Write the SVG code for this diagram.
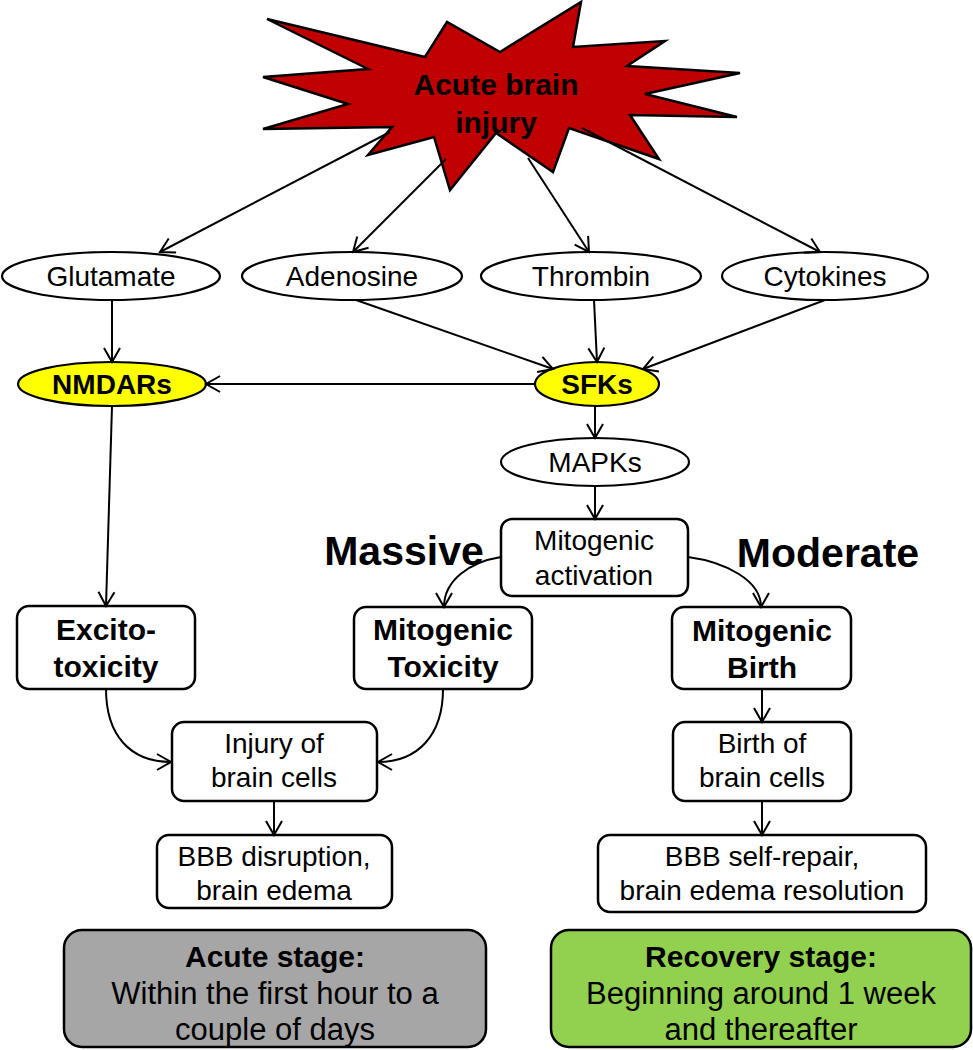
<svg xmlns="http://www.w3.org/2000/svg" width="973" height="1050" viewBox="0 0 973 1050">
<style>
.t{font-family:"Liberation Sans",Arial,sans-serif;font-size:28px;fill:#000;text-anchor:middle}
.b{font-weight:bold;font-size:30px}
.bs{font-weight:bold;font-size:28px}
.big{font-weight:bold;font-size:41px}
.st{font-size:31px}
.box{fill:#fff;stroke:#000;stroke-width:2.5}
.ell{fill:#fff;stroke:#000;stroke-width:2.2}
.yel{fill:#ffff00;stroke:#000;stroke-width:2.2}
.c{fill:none;stroke:#000;stroke-width:2;marker-end:url(#ah)}
</style>
<defs>
<marker id="ah" viewBox="-16 -10 18 20" refX="0" refY="0" markerWidth="18" markerHeight="20" markerUnits="userSpaceOnUse" orient="auto">
<path d="M-14,-8 L0,0 L-14,8" fill="none" stroke="#000" stroke-width="2"/>
</marker>
</defs>
<rect width="973" height="1050" fill="#fff"/>
<g id="injury">
<polygon points="267,19 425,57 447,22 500,52 581,2 573,47 665,41 627,66 740,73 645,94 737,117 630,115 659,159 569,128 553,172 496,133 450,190 434,137 368,155 392,127 263,129 348,104 263,77 368,69" fill="#c00000" stroke="#000" stroke-width="2.5" stroke-linejoin="miter"/>
<text class="t b" x="496" y="95">Acute brain</text>
<text class="t b" x="496" y="133">injury</text>
</g>
<g id="glutamate"><ellipse class="ell" cx="111" cy="276" rx="109" ry="24"/><text class="t" x="111" y="286">Glutamate</text></g>
<g id="adenosine"><ellipse class="ell" cx="352" cy="276" rx="110" ry="24"/><text class="t" x="352" y="286">Adenosine</text></g>
<g id="thrombin"><ellipse class="ell" cx="591" cy="276" rx="110" ry="24"/><text class="t" x="591" y="286">Thrombin</text></g>
<g id="cytokines"><ellipse class="ell" cx="825" cy="276" rx="103" ry="24"/><text class="t" x="825" y="286">Cytokines</text></g>
<g id="nmdars"><ellipse class="yel" cx="112" cy="384" rx="94" ry="22"/><text class="t bs" x="112" y="394">NMDARs</text></g>
<g id="sfks"><ellipse class="yel" cx="597" cy="384" rx="62" ry="22"/><text class="t bs" x="597" y="394">SFKs</text></g>
<g id="mapks"><ellipse class="ell" cx="595" cy="462" rx="94" ry="24"/><text class="t" x="595" y="472">MAPKs</text></g>
<g id="mitoact"><rect class="box" x="501" y="519" width="187" height="77" rx="11"/><text class="t" x="594" y="550">Mitogenic</text><text class="t" x="594" y="585">activation</text></g>
<g id="massive"><text class="t big" x="404" y="565">Massive</text></g>
<g id="moderate"><text class="t big" x="828" y="567">Moderate</text></g>
<g id="excito"><rect class="box" x="17" y="606" width="178" height="83" rx="12"/><text class="t b" x="106" y="640">Excito-</text><text class="t b" x="106" y="677">toxicity</text></g>
<g id="mitotox"><rect class="box" x="354" y="607" width="178" height="82" rx="12"/><text class="t b" x="443" y="640">Mitogenic</text><text class="t b" x="443" y="677">Toxicity</text></g>
<g id="mitobirth"><rect class="box" x="672" y="607" width="179" height="82" rx="12"/><text class="t b" x="762" y="641">Mitogenic</text><text class="t b" x="762" y="678">Birth</text></g>
<g id="injurycells"><rect class="box" x="172" y="722" width="205" height="79" rx="12"/><text class="t" x="274" y="753">Injury of</text><text class="t" x="274" y="787">brain cells</text></g>
<g id="birthcells"><rect class="box" x="673" y="722" width="178" height="79" rx="12"/><text class="t" x="762" y="753">Birth of</text><text class="t" x="762" y="787">brain cells</text></g>
<g id="bbbdisrupt"><rect class="box" x="157" y="835" width="235" height="73" rx="12"/><text class="t" x="274" y="866">BBB disruption,</text><text class="t" x="274" y="900">brain edema</text></g>
<g id="bbbrepair"><rect class="box" x="598" y="835" width="328" height="77" rx="12"/><text class="t" x="762" y="866">BBB self-repair,</text><text class="t" x="762" y="900">brain edema resolution</text></g>
<g id="acute"><rect x="64" y="930" width="422" height="117" rx="18" fill="#a6a6a6" stroke="#000" stroke-width="2.5"/><text class="t b" x="275" y="967">Acute stage:</text><text class="t st" x="275" y="1004">Within the first hour to a</text><text class="t st" x="275" y="1040">couple of days</text></g>
<g id="recovery"><rect x="551" y="930" width="420" height="117" rx="18" fill="#92d050" stroke="#000" stroke-width="2.5"/><text class="t b" x="761" y="967">Recovery stage:</text><text class="t st" x="761" y="1004">Beginning around 1 week</text><text class="t st" x="761" y="1040">and thereafter</text></g>
<g id="connectors">
<line class="c" x1="390" y1="132" x2="160" y2="252"/>
<line class="c" x1="446" y1="159" x2="353" y2="252"/>
<line class="c" x1="528" y1="158" x2="589" y2="252"/>
<line class="c" x1="582" y1="128" x2="820" y2="252"/>
<line class="c" x1="112" y1="300" x2="112" y2="362"/>
<line class="c" x1="356" y1="300" x2="553" y2="369"/>
<line class="c" x1="594" y1="300" x2="597" y2="362"/>
<line class="c" x1="825" y1="300" x2="643" y2="369"/>
<line class="c" x1="535" y1="384" x2="206" y2="384"/>
<line class="c" x1="595" y1="406" x2="595" y2="438"/>
<line class="c" x1="595" y1="486" x2="595" y2="519"/>
<line class="c" x1="112" y1="406" x2="106" y2="606"/>
<path class="c" d="M501,557 C470,562 444,580 444,607"/>
<path class="c" d="M688,557 C725,562 761,580 761,607"/>
<path class="c" d="M106,689 C106,735 130,762 171,762"/>
<path class="c" d="M443,689 C443,735 418,762 378,762"/>
<line class="c" x1="274" y1="801" x2="274" y2="835"/>
<line class="c" x1="762" y1="689" x2="762" y2="722"/>
<line class="c" x1="762" y1="801" x2="762" y2="835"/>
</g>
</svg>
